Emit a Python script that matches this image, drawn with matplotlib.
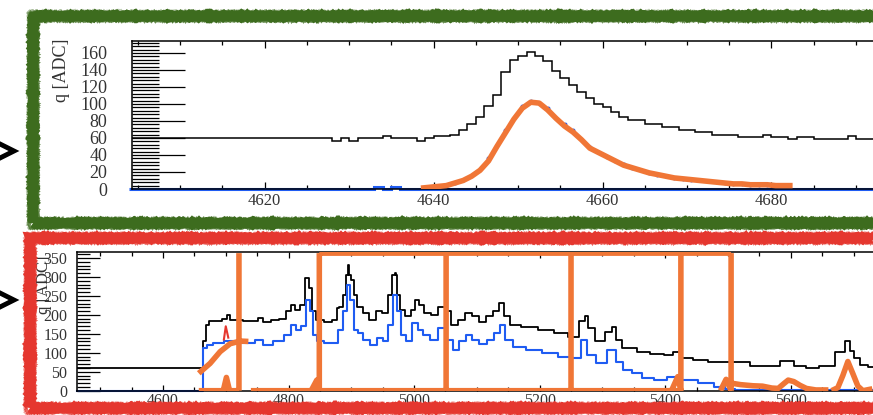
import matplotlib.pyplot as plt
import numpy as np
from matplotlib.lines import Line2D
from matplotlib.patches import Rectangle
from matplotlib.ticker import MultipleLocator

plt.rcParams['font.family'] = ['Liberation Serif', 'DejaVu Serif']

W, H = 873, 415
BLUE = '#1f5cf2'
ORANGE = '#f07636'
GREEN = '#3d6c1e'
RED = '#e5372f'
TXT = '#333333'

# ---- top panel: one pulse, 1-sample bins ----
top_edges = np.arange(4604, 4694)
top_black = [60, 60, 60, 60, 60, 60, 60, 60, 60, 60, 60, 60, 60, 60, 60, 60,
             60, 60, 60, 60, 60, 60, 60, 60, 57, 60, 57, 60, 60, 60, 62, 60,
             60, 60, 57, 60, 62, 62, 64, 69, 76, 85, 97, 111, 138, 152, 156, 161,
             156, 150, 139, 130, 122, 114, 107, 100, 96, 91, 85, 81, 81, 76, 76, 73,
             73, 69, 69, 67, 67, 63, 63, 63, 61, 61, 61, 64, 61, 61, 59, 61,
             61, 59, 59, 59, 59, 62, 59, 59, 59]
top_blue_base = [0, 0, 0, 0, 0, 0, 0, 0, 0, 0, 0, 0, 0, 0, 0, 0,
                 0, 0, 0, 0, 0, 0, 0, 0, 0, 0, 0, 0, 0, 2, 0, 2,
                 0, 0, 0, 0, 0, 0, 0, 0, 0, 0, 0, 0, 0, 0, 0, 0,
                 0, 0, 0, 0, 0, 0, 0, 0, 0, 0, 0, 0, 0, 0, 0, 0,
                 0, 0, 0, 0, 0, 0, 0, 0, 0, 0, 0, 0, 0, 0, 0, 0,
                 0, 0, 0, 0, 0, 0, 0, 0, 0]
top_pts_x = np.arange(4640, 4681)
top_pts = [3, 4, 7, 11, 16, 23, 36, 52, 69, 84, 97, 103, 101, 95, 84, 76, 69,
           59, 49, 43, 38, 33, 29, 25, 22, 19, 17, 15, 13, 12, 11, 10, 9, 8, 7,
           6, 6, 5, 5, 5, 4]
top_fit_x = np.arange(4638, 4683)
top_fit = [1, 2, 3, 4, 7, 10, 15, 22, 33, 50, 66, 82, 95, 102, 101, 93, 83,
           74, 67, 58, 48, 43, 38, 33, 28, 25, 22, 19, 17, 15, 13, 12, 11, 10,
           9, 8, 7, 6, 6, 5, 5, 5, 4, 4, 4]

# ---- bottom panel: full trace ----
bot_black_x = [4463, 4650, 4663, 4666, 4671, 4676, 4690, 4699, 4705, 4710, 4720,
               4735, 4748, 4754, 4765, 4778, 4791, 4800, 4807, 4815, 4823, 4831,
               4835, 4840, 4849, 4863, 4874, 4879, 4883, 4890, 4893, 4895, 4898,
               4901, 4906, 4913, 4923, 4934, 4944, 4955, 4963, 4968, 4970, 4972,
               4975, 4980, 4990, 4999, 5004, 5012, 5021, 5033, 5044, 5053, 5065,
               5076, 5086, 5098, 5108, 5120, 5131, 5140, 5147, 5158, 5183, 5212,
               5234, 5255, 5270, 5275, 5280, 5296, 5313, 5319, 5325, 5337, 5345,
               5364, 5388, 5408, 5418, 5433, 5455, 5481, 5515, 5555, 5570, 5596,
               5615, 5633, 5658, 5683, 5691, 5697, 5705, 5717, 5728, 5800]
bot_black = [61, 61, 61, 130, 174, 183, 183, 190, 200, 187, 187,
             183, 183, 193, 180, 187, 190, 209, 227, 214, 227, 297,
             272, 209, 187, 181, 187, 218, 222, 253, 306, 333, 306,
             293, 253, 222, 205, 187, 209, 205, 253, 306, 311, 306,
             253, 213, 196, 213, 240, 227, 205, 200, 222, 209, 174,
             187, 205, 196, 181, 196, 209, 231, 196, 174, 169, 161,
             152, 143, 183, 196, 165, 130, 156, 169, 134, 112, 112,
             103, 96, 93, 101, 87, 81, 77, 75, 66, 66, 79,
             66, 61, 66, 103, 130, 106, 86, 68, 63, 63]
bot_blue_x = [4463, 4662, 4666, 4673, 4685, 4710, 4738, 4754, 4765, 4785, 4800,
              4808, 4815, 4824, 4831, 4837, 4842, 4850, 4863, 4876, 4883, 4890,
              4895, 4901, 4906, 4914, 4923, 4935, 4946, 4955, 4963, 4970, 4975,
              4982, 4992, 5002, 5010, 5019, 5032, 5044, 5057, 5066, 5078, 5088,
              5098, 5109, 5122, 5134, 5141, 5149, 5165, 5190, 5219, 5240, 5260,
              5272, 5280, 5299, 5317, 5327, 5340, 5355, 5371, 5393, 5413, 5441,
              5465, 5489, 5502, 5520, 5560, 5600, 5640, 5680, 5720, 5800]
bot_blue = [0, 0, 112, 121, 125, 130, 125, 134, 121, 130, 147,
            174, 161, 170, 240, 209, 147, 130, 125, 125, 161, 209,
            280, 240, 161, 152, 134, 121, 139, 130, 174, 253, 209,
            147, 130, 178, 161, 147, 134, 165, 134, 108, 130, 147,
            134, 123, 134, 152, 174, 134, 116, 108, 99, 90, 86,
            134, 94, 72, 108, 75, 55, 46, 34, 28, 37, 28,
            20, 11, 4, 2, 1, 2, 1, 2, 1, 1]

# window fits (segments split by nan)
nan = np.nan
bot_fit_x = [4657, 4721, nan, 4721, 4721, nan,
             4657, 4675, 4691, 4707, 4723, 4736, nan,
             4740, 5425, nan, 4849, 5505, nan,
             4849, 4849, nan, 5051, 5051, nan, 5250, 5250, nan,
             5425, 5425, nan, 5505, 5505, nan,
             4696, 4701, 4706, nan, 4836, 4845, 4849, nan,
             5410, 5420, 5425, nan, 5488, 5497, 5505, nan,
             5505, 5520, 5540, 5555, 5570, 5580, 5590, 5596, 5605, 5615, 5625, 5640, 5660, nan,
             5665, 5675, 5683, 5691, 5699, 5707, 5715, 5730]
bot_fit_y = [0, 0, nan, 0, 363, nan,
             46, 72, 103, 124, 131, 130, nan,
             0, 0, nan, 363, 363, nan,
             0, 363, nan, 0, 363, nan, 0, 363, nan,
             0, 363, nan, 0, 363, nan,
             0, 35, 0, nan, 0, 28, 0, nan,
             0, 37, 0, nan, 0, 30, 0, nan,
             20, 16, 13, 12, 7, 6, 20, 28, 24, 14, 6, 2, 2, nan,
             0, 8, 40, 77, 45, 12, 0, 5]
red_x = [4697, 4700, 4704]
red_y = [135, 170, 140]


def px_box(left, top, right, bottom):
    return [left / W, 1 - bottom / H, (right - left) / W, (bottom - top) / H]


fig = plt.figure(figsize=(W / 100, H / 100), dpi=100)
fig.patch.set_facecolor('white')

ax1 = fig.add_axes(px_box(132, 41, 932, 189))
ax1.stairs(top_black, top_edges, color='black', lw=1.1, baseline=None, zorder=2)
ax1.stairs(top_blue_base, top_edges, color=BLUE, lw=2.2, baseline=None, zorder=2, clip_on=False)
ax1.plot(top_pts_x + 0.5, top_pts, 'o', ms=1.8, color=BLUE, zorder=2)
ax1.plot(top_fit_x + 0.5, top_fit, color=ORANGE, lw=4, zorder=3, solid_capstyle='butt')
ax1.set_xlim(4604.3, 4699)
ax1.set_ylim(0, 174)
ax1.xaxis.set_major_locator(MultipleLocator(20))
ax1.xaxis.set_minor_locator(MultipleLocator(5))
ax1.yaxis.set_major_locator(MultipleLocator(20))
ax1.yaxis.set_minor_locator(MultipleLocator(4))
ax1.tick_params(axis='y', which='major', direction='in', length=38, width=0.9, pad=18,
                labelsize=13, labelcolor=TXT)
ax1.tick_params(axis='y', which='minor', direction='in', length=19.5, width=0.9)
ax1.tick_params(axis='x', which='major', direction='in', length=5, width=0.9, pad=3,
                top=True, labelsize=12, labelcolor=TXT)
ax1.tick_params(axis='x', which='minor', direction='in', length=3, width=0.9, top=True)

ax2 = fig.add_axes(px_box(77, 252, 910, 390.7))
ax2.plot(bot_black_x, bot_black, color='black', lw=1.3, drawstyle='steps-mid', zorder=2)
ax2.plot(bot_blue_x, bot_blue, color=BLUE, lw=1.5, drawstyle='steps-mid', zorder=2, clip_on=False)
ax2.plot(red_x, red_y, color=RED, lw=1.5, zorder=3)
ax2.plot(bot_fit_x, bot_fit_y, color=ORANGE, lw=4, zorder=4, solid_capstyle='butt')
ax2.set_xlim(4463, 5790)
ax2.set_ylim(0, 366)
ax2.xaxis.set_major_locator(MultipleLocator(200))
ax2.xaxis.set_minor_locator(MultipleLocator(50))
ax2.yaxis.set_major_locator(MultipleLocator(50))
ax2.yaxis.set_minor_locator(MultipleLocator(10))
ax2.tick_params(axis='y', which='major', direction='in', length=16.5, width=0.9, pad=7,
                labelsize=11.5, labelcolor=TXT)
ax2.tick_params(axis='y', which='minor', direction='in', length=9.5, width=0.9)
ax2.tick_params(axis='x', which='major', direction='in', length=4, width=0.9, pad=2,
                top=True, labelsize=11.5, labelcolor=TXT)
ax2.tick_params(axis='x', which='minor', direction='in', length=3, width=0.9, top=True)

for ax in (ax1, ax2):
    for s in ax.spines.values():
        s.set_linewidth(1.1)

fig.text(62 / W, 1 - 70 / H, 'q [ADC]', rotation=90, ha='center', va='center',
         fontsize=13, color=TXT)
fig.text(44 / W, 1 - 285 / H, 'q [ADC]', rotation=90, ha='center', va='center',
         fontsize=12, color=TXT)


def rough_frame(left, top, right, bottom, color):
    # a marker-like band: solid core plus a few jittered strokes for ragged edges
    for lw, off, scale, alpha in [(7.0, 0, 0.6, 1.0), (2.0, -3.6, 0.9, 0.75),
                                  (2.0, 3.6, 0.9, 0.75), (1.2, -4.8, 1.1, 0.45),
                                  (1.2, 4.8, 1.1, 0.45)]:
        l, t, r_, b = left + off, top + off, right - off, bottom - off
        r = Rectangle((l / W, 1 - b / H), (r_ - l) / W, (b - t) / H,
                      transform=fig.transFigure, fill=False, ec=color, lw=lw,
                      alpha=alpha, zorder=10)
        r.set_sketch_params(scale, 2, 2)
        fig.add_artist(r)


rough_frame(33, 16, 890, 223, GREEN)
rough_frame(30, 238, 890, 408, RED)

for cy in (151, 300):
    fig.add_artist(Line2D([-4 / W, 14 / W, -4 / W],
                          [1 - (cy - 9) / H, 1 - cy / H, 1 - (cy + 9) / H],
                          transform=fig.transFigure, color='black', lw=3.5,
                          solid_joinstyle='miter', zorder=10))

fig.savefig('out.png', dpi=100)
